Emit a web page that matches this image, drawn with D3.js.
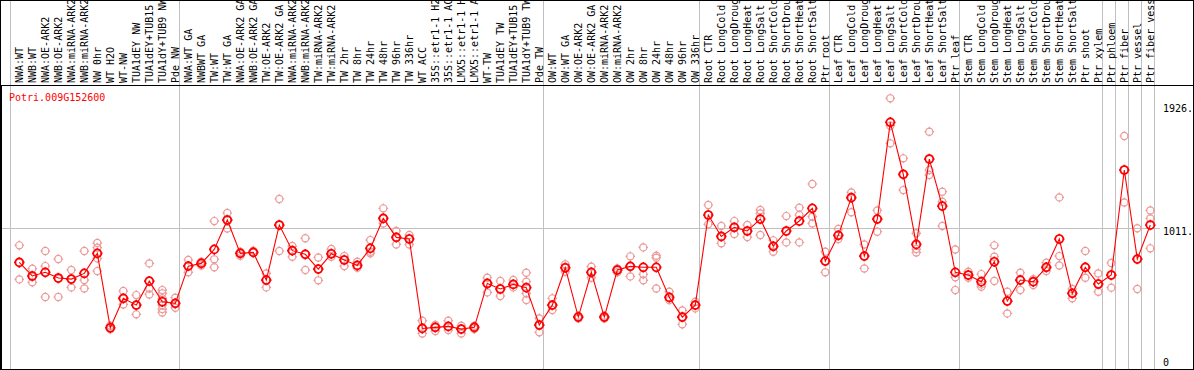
<!DOCTYPE html>
<html><head><meta charset="utf-8">
<script src="https://cdn.jsdelivr.net/npm/d3@7"></script>
<style>
html,body{margin:0;padding:0;background:#fff;}
svg text{font-family:"DejaVu Sans Mono",monospace;font-size:10px;}
</style></head>
<body>
<svg id="chart" width="1194" height="370"></svg>
<script>
const geneName = "Potri.009G152600";

const samples = [
 "NWA:WT","NWB:WT","NWA:OE-ARK2","NWB:OE-ARK2","NWA:miRNA-ARK2","NWB:miRNA-ARK2","NW 0hr","WT H2O","WT-NW","TUA1dEY NW",
 "TUA1dEY+TUB15","TUA1dY+TUB9 NW","Pde NW","NWA:WT GA","NWBWT GA","TW:WT","TW:WT GA","NWA:OE-ARK2 GA","NWB:OE-ARK2 GA","TW:OE-ARK2",
 "TW:OE-ARK2 GA","NWA:miRNA-ARK2","NWB:miRNA-ARK2","TW:miRNA-ARK2","TW:miRNA-ARK2","TW 2hr","TW 8hr","TW 24hr","TW 48hr","TW 96hr",
 "TW 336hr","WT ACC","35S::etr1-1 H2","35S::etr1-1 AC","LMX5::etr1-1 H","LMX5::etr1-1 A","WT-TW","TUA1dEY TW","TUA1dEY+TUB15","TUA1dY+TUB9 TW",
 "Pde TW","OW:WT","OW:WT GA","OW:OE-ARK2","OW:OE-ARK2 GA","OW:miRNA-ARK2","OW:miRNA-ARK2","OW 2hr","OW 8hr","OW 24hr",
 "OW 48hr","OW 96hr","OW 336hr","Root CTR","Root LongCold","Root LongDroug","Root LongHeat","Root LongSalt","Root ShortCold","Root ShortDrou",
 "Root ShortHeat","Root ShortSalt","Ptr root","Leaf CTR","Leaf LongCold","Leaf LongDroug","Leaf LongHeat","Leaf LongSalt","Leaf ShortCold","Leaf ShortDrou",
 "Leaf ShortHeat","Leaf ShortSalt","Ptr leaf","Stem CTR","Stem LongCold","Stem LongDroug","Stem LongHeat","Stem LongSalt","Stem ShortCold","Stem ShortDrou",
 "Stem ShortHeat","Stem ShortSalt","Ptr shoot","Ptr xylem","Ptr phloem","Ptr fiber","Ptr vessel","Ptr fiber vess"
];

const means = [
 759,659,686,644,636,678,826,277,494,444,
 621,469,457,732,752,855,1072,826,833,629,
 1035,846,819,710,823,777,737,863,1084,944,
 932,272,280,287,267,280,604,563,597,573,
 297,444,720,356,686,356,703,730,723,723,
 501,356,444,1109,951,1018,991,1079,878,991,
 1065,1158,769,959,1237,806,1079,1793,1409,892,
 1522,1175,686,666,617,764,474,629,617,723,
 932,531,723,600,666,1441,784,1035
];

const replicates = [
 [885,759,634],[713,654,612],[843,732,504],[784,641,504],[703,636,575],[843,629,567],[902,868,789,695],[292,277,265],[548,494,449],[518,444,376],
 [752,567,523],[555,531,494,444,415,390],[499,457,425],[777,732,686],[764,752,737],[1064,782,723],[1124,1072,1010],[838,826,809],[846,833,831],[678,629,575],
 [1227,1035,843],[880,846,801],[937,819,703],[796,710,627],[858,823,801],[806,777,732],[764,737,720],[924,838,826],[1158,1084,1047],[991,944,892],
 [961,932,892],[329,272,235],[297,280,253],[329,287,260],[292,267,235],[292,280,267],[646,604,538],[622,563,511],[629,597,575],[683,617,531,482],
 [346,297,243],[494,444,408],[745,720,690],[366,356,346],[728,686,646],[366,356,346],[715,703,686],[804,730,656],[870,671,627],[809,794,567],
 [543,501,482],[405,356,302],[469,444,420],[1183,1109,1040],[1028,951,900],[1064,1018,969],[1035,991,946],[1146,1121,961],[922,878,838],[1101,991,907],
 [1163,1109,907],[1338,1097,1047],[838,769,686],[1006,959,932],[1276,1237,1129],[892,806,715],[1143,1079,986],[1970,1768,1638],[1527,1409,1293],[974,858,833],
 [1724,1441,1404],[1281,1207,1028],[855,649,555],[691,666,646],[673,597,580],[885,801,622],[543,474,383],[683,629,555],[636,617,592],[757,723,696],
 [1239,806,737],[563,531,494],[843,723,646],[678,600,543],[755,666,573],[1692,1441,1202],[1011,784,563],[1143,1084,863]
];

// indices where a new group begins (gray separators), plus the end
const groupStarts = [0,13,41,53,63,73,84,85,86,87,88];

const yTickValues = [0, 1011, 1926];
const yTickLabels = ["0", "1011.", "1926."];

const W = 1194, H = 370;
const headerBottom = 85, plotBottom = 369, plotLeft = 1, plotRight = 1193;
const svg = d3.select("#chart");

const x = d3.scaleBand().domain(d3.range(samples.length)).range([10.8, 10.8 + 13 * samples.length]).paddingInner(0).paddingOuter(0);
const px = i => x(i) + 8.5;
const sepX = i => (i < samples.length ? x(i) : x.range()[1]);
const y = d3.scaleLinear().domain([0, 1926]).range([365.3, 104.3]);

// gray separators
svg.append("g").selectAll("line").data(groupStarts).join("line")
  .attr("x1", d => sepX(d)).attr("x2", d => sepX(d))
  .attr("y1", 0).attr("y2", plotBottom)
  .attr("stroke", "#c0c0c0").attr("stroke-width", 1).attr("shape-rendering","crispEdges");

// horizontal grid at middle tick
svg.append("line").attr("x1", plotLeft).attr("x2", 1160)
  .attr("y1", Math.round(y(1011)) + 0.5).attr("y2", Math.round(y(1011)) + 0.5)
  .attr("stroke", "#c0c0c0").attr("shape-rendering","crispEdges");

// frame
svg.append("rect").attr("x", 0.5).attr("y", 0.5).attr("width", plotRight).attr("height", plotBottom)
  .attr("fill", "none").attr("stroke", "#000").attr("shape-rendering","crispEdges");
svg.append("line").attr("x1", 0).attr("x2", W).attr("y1", headerBottom + 0.5).attr("y2", headerBottom + 0.5)
  .attr("stroke", "#000").attr("shape-rendering","crispEdges");
svg.append("line").attr("x1", 1.5).attr("x2", 1.5).attr("y1", headerBottom).attr("y2", plotBottom)
  .attr("stroke", "#000").attr("shape-rendering","crispEdges");

// sample labels (vertical, truncated to 14 chars)
const clip = svg.append("clipPath").attr("id", "hdr").append("rect").attr("x", 0).attr("y", 1).attr("width", W).attr("height", headerBottom - 1);
svg.append("g").attr("clip-path", "url(#hdr)").selectAll("text").data(samples).join("text")
  .attr("transform", (d, i) => `translate(${px(i) + 3.2},83) rotate(-90)`)
  .attr("fill", "#000")
  .text(d => d.slice(0, 14));

// gene title
svg.append("text").attr("x", 9).attr("y", 100.5).attr("fill", "#ff0000").text(geneName);

// right axis labels
svg.append("g").selectAll("text").data(yTickValues).join("text")
  .attr("x", 1163)
  .attr("y", (d, i) => Math.min(y(d) + 7.2, 365.5))
  .attr("fill", "#000")
  .text((d, i) => yTickLabels[i]);

// marker: circle with small ticks
function marker(g, r) {
  g.append("circle").attr("r", r).attr("fill", "none");
  g.append("path").attr("d", `M0,${-r-1.2}V${-r+0.6}M0,${r-0.6}V${r+1.2}M${-r-1.2},0H${-r+0.6}M${r-0.6},0H${r+1.2}`).attr("fill","none");
}

// replicate points
const repData = [];
replicates.forEach((arr, i) => arr.forEach(v => repData.push({i, v})));
const repG = svg.append("g").attr("stroke", "#ec9a9a").attr("stroke-width", 1.2);
repData.forEach(d => {
  const g = repG.append("g").attr("transform", `translate(${px(d.i)},${y(d.v)})`);
  marker(g, 3.6);
});

// mean line
svg.append("path").datum(means)
  .attr("d", d3.line().x((d, i) => px(i)).y(d => y(d)))
  .attr("fill", "none").attr("stroke", "#ff0000").attr("stroke-width", 1.1);

// mean markers
const meanG = svg.append("g").attr("stroke", "#ff0000").attr("stroke-width", 1.7);
means.forEach((v, i) => {
  const g = meanG.append("g").attr("transform", `translate(${px(i)},${y(v)})`);
  marker(g, 4);
});
</script>
</body></html>
